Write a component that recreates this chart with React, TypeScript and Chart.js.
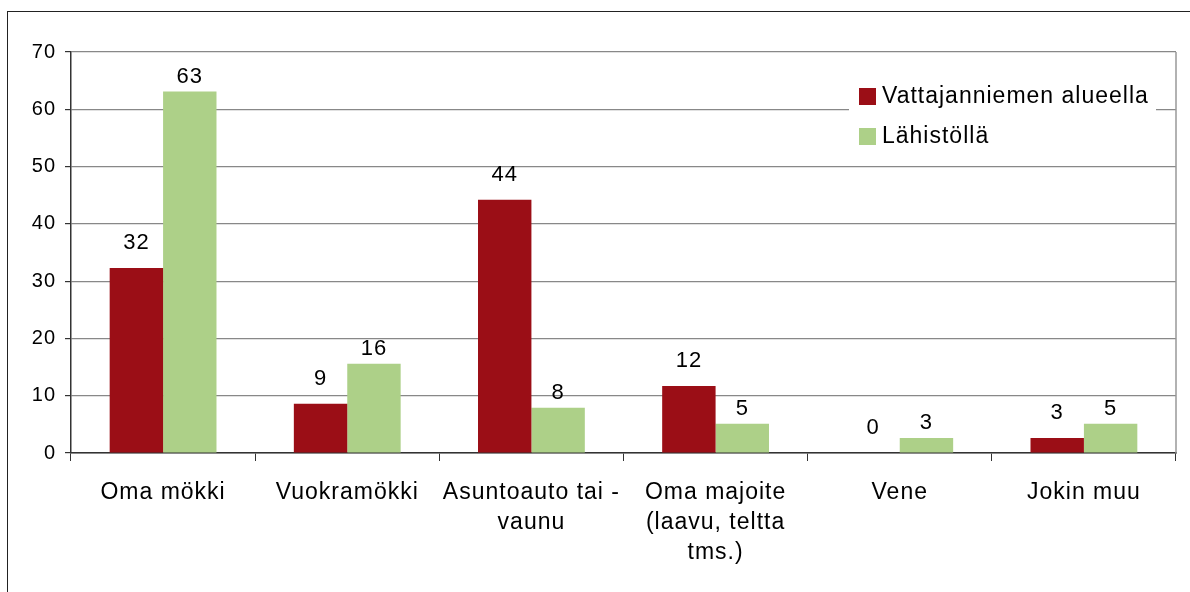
import React, { useEffect, useRef } from "react";
import { Chart, registerables } from "chart.js";

Chart.register(...registerables);

// ---- data ----
const categories: string[][] = [
  ["Oma mökki"],
  ["Vuokramökki"],
  ["Asuntoauto tai -", "vaunu"],
  ["Oma majoite", "(laavu, teltta", "tms.)"],
  ["Vene"],
  ["Jokin muu"],
];
const seriesNames = ["Vattajanniemen alueella", "Lähistöllä"];
const vattajanniemiValues = [32.3, 8.6, 44.2, 11.7, 0, 2.6];
const lahistollaValues = [63.1, 15.6, 7.9, 5.1, 2.6, 5.1];
const vattajanniemiLabels = ["32", "9", "44", "12", "0", "3"];
const lahistollaLabels = ["63", "16", "8", "5", "3", "5"];
const yMin = 0;
const yMax = 70;
const yStep = 10;

const seriesColors = ["#9B0E16", "#ADD088"];
const labelSets = [vattajanniemiLabels, lahistollaLabels];
const FONT = '"Liberation Sans", Arial, sans-serif';

const spacingPlugin = {
  id: "spacing",
  beforeLayout(chart: any) {
    chart.ctx.letterSpacing = "1px";
  },
  beforeDraw(chart: any) {
    chart.ctx.letterSpacing = "1px";
  },
};

const framePlugin = {
  id: "frame",
  beforeDatasetsDraw(chart: any) {
    const { ctx, chartArea } = chart;
    ctx.save();
    ctx.strokeStyle = "#999999";
    ctx.lineWidth = 1.5;
    ctx.beginPath();
    ctx.moveTo(chartArea.right, chartArea.top);
    ctx.lineTo(chartArea.right, chartArea.bottom);
    ctx.stroke();
    ctx.restore();
  },
};

const valueLabelPlugin = {
  id: "valueLabels",
  afterDatasetsDraw(chart: any) {
    const ctx = chart.ctx;
    ctx.save();
    ctx.font = `22px ${FONT}`;
    ctx.fillStyle = "#000";
    ctx.textAlign = "center";
    ctx.textBaseline = "alphabetic";
    chart.data.datasets.forEach((_ds: any, di: number) => {
      const meta = chart.getDatasetMeta(di);
      const gap = di === 0 ? 19 : 9;
      meta.data.forEach((bar: any, i: number) => {
        ctx.fillText(labelSets[di][i], bar.x, bar.y - gap);
      });
    });
    ctx.restore();
  },
};

const legendPlugin = {
  id: "customLegend",
  afterDraw(chart: any) {
    const { ctx, chartArea } = chart;
    const { right, top } = chartArea;
    ctx.save();
    ctx.fillStyle = "#fff";
    ctx.fillRect(right - 327, top + 22, 307, 82);
    ctx.font = `23px ${FONT}`;
    ctx.textAlign = "left";
    ctx.textBaseline = "alphabetic";
    chart.data.datasets.forEach((ds: any, i: number) => {
      const sqY = top + 36 + i * 40;
      ctx.fillStyle = ds.backgroundColor;
      ctx.fillRect(right - 317, sqY, 17, 17);
      ctx.fillStyle = "#000";
      ctx.fillText(ds.label, right - 294, sqY + 15);
    });
    ctx.restore();
  },
};

export default function App() {
  const canvasRef = useRef<HTMLCanvasElement | null>(null);

  useEffect(() => {
    if (!canvasRef.current) return;
    Chart.defaults.font.family = FONT;
    const chart = new Chart(canvasRef.current, {
      type: "bar",
      data: {
        labels: categories,
        datasets: [
          {
            label: seriesNames[0],
            data: vattajanniemiValues,
            backgroundColor: seriesColors[0],
            categoryPercentage: 0.58,
            barPercentage: 1.0,
          },
          {
            label: seriesNames[1],
            data: lahistollaValues,
            backgroundColor: seriesColors[1],
            categoryPercentage: 0.58,
            barPercentage: 1.0,
          },
        ],
      },
      options: {
        animation: false,
        responsive: false,
        devicePixelRatio: 1,
        layout: { padding: { top: 52, right: 14, left: 0, bottom: 0 } },
        plugins: {
          legend: { display: false },
          tooltip: { enabled: false },
        },
        scales: {
          x: {
            afterFit: (s: any) => {
              s.height = 139;
            },
            grid: {
              display: true,
              drawOnChartArea: false,
              drawTicks: true,
              tickLength: 8,
              color: "#333",
              offset: true,
            },
            border: { color: "#333", width: 1.5 },
            ticks: {
              color: "#000",
              font: { size: 23, lineHeight: 1.3 },
              padding: 17,
              maxRotation: 0,
              autoSkip: false,
            },
          },
          y: {
            min: yMin,
            max: yMax,
            afterFit: (s: any) => {
              s.width = 71;
            },
            grid: {
              color: "#888",
              lineWidth: 1.2,
              tickLength: 6,
              tickColor: "#333",
            },
            border: { color: "#333", width: 1.5 },
            ticks: {
              stepSize: yStep,
              color: "#000",
              font: { size: 20 },
              padding: 9,
            },
          },
        },
      },
      plugins: [spacingPlugin, framePlugin, valueLabelPlugin, legendPlugin],
    });
    return () => chart.destroy();
  }, []);

  return (
    <div
      style={{
        position: "fixed",
        left: 0,
        top: 0,
        width: 1190,
        height: 592,
        overflow: "hidden",
        background: "#fff",
      }}
    >
      <div
        style={{
          position: "absolute",
          left: 7,
          top: 11,
          width: 1400,
          height: 800,
          borderLeft: "1.5px solid #222",
          borderTop: "1.5px solid #222",
        }}
      />
      <canvas
        ref={canvasRef}
        width={1190}
        height={592}
        style={{ position: "absolute", left: 0, top: 0, width: 1190, height: 592 }}
      />
    </div>
  );
}
